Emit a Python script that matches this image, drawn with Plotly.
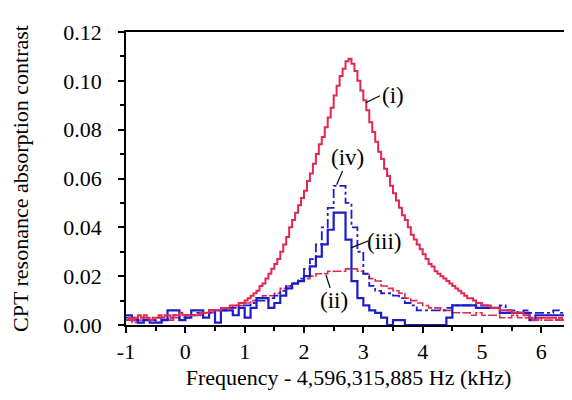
import plotly.graph_objects as go

# frequency grids (kHz) for the stepped traces
freq_fine = [round(-1.0 + 0.05 * i, 2) for i in range(151)]
freq = [round(-1.0 + 0.1 * i, 1) for i in range(76)]

curve_i = [0.002, 0.003, 0.002, 0.003, 0.004, 0.003, 0.004, 0.003, 0.002, 0.003,   # -1.00 .. -0.55
           0.003, 0.004, 0.003, 0.004, 0.004, 0.003, 0.004, 0.004, 0.005, 0.004,   # -0.50 .. -0.05
           0.004, 0.004, 0.004, 0.004, 0.004, 0.005, 0.005, 0.005, 0.006, 0.006,   # 0.00 .. 0.45
           0.006, 0.006, 0.007, 0.007, 0.007, 0.008, 0.008, 0.008, 0.009, 0.009,   # 0.50 .. 0.95
           0.010, 0.011, 0.012, 0.013, 0.014, 0.016, 0.017, 0.019, 0.021, 0.023,   # 1.00 .. 1.45
           0.025, 0.027, 0.030, 0.033, 0.036, 0.040, 0.043, 0.046, 0.049, 0.052,   # 1.50 .. 1.95
           0.055, 0.059, 0.062, 0.066, 0.070, 0.074, 0.077, 0.081, 0.085, 0.089,   # 2.00 .. 2.45
           0.094, 0.098, 0.102, 0.105, 0.108, 0.109, 0.107, 0.104, 0.100, 0.096,   # 2.50 .. 2.95
           0.092, 0.088, 0.083, 0.079, 0.075, 0.071, 0.068, 0.064, 0.061, 0.057,   # 3.00 .. 3.45
           0.054, 0.051, 0.048, 0.045, 0.043, 0.040, 0.037, 0.035, 0.033, 0.031,   # 3.50 .. 3.95
           0.029, 0.027, 0.025, 0.024, 0.022, 0.021, 0.020, 0.019, 0.018, 0.017,   # 4.00 .. 4.45
           0.016, 0.015, 0.014, 0.013, 0.012, 0.011, 0.011, 0.010, 0.009, 0.009,   # 4.50 .. 4.95
           0.008, 0.008, 0.008, 0.007, 0.007, 0.007, 0.006, 0.006, 0.006, 0.006,   # 5.00 .. 5.45
           0.005, 0.005, 0.005, 0.005, 0.004, 0.004, 0.003, 0.002, 0.002, 0.003,   # 5.50 .. 5.95
           0.003, 0.003, 0.003, 0.003, 0.003, 0.002, 0.003, 0.002, 0.002, 0.001,   # 6.00 .. 6.45
           0.001]                                                                  # 6.50

curve_ii = [0.002, 0.001, 0.002, 0.003, 0.002, 0.001, 0.002, 0.002, 0.003, 0.002,
            0.003, 0.004, 0.004, 0.005, 0.005, 0.006, 0.006, 0.007, 0.008, 0.008,
            0.009, 0.010, 0.011, 0.012, 0.012, 0.013, 0.015, 0.016, 0.017, 0.018,
            0.019, 0.020, 0.021, 0.021, 0.022, 0.022, 0.022, 0.023, 0.023, 0.022,
            0.021, 0.019, 0.018, 0.016, 0.015, 0.014, 0.013, 0.011, 0.010, 0.009,
            0.008, 0.007, 0.007, 0.006, 0.006, 0.005, 0.005, 0.005, 0.004, 0.005,
            0.004, 0.004, 0.004, 0.003, 0.003, 0.004, 0.003, 0.003, 0.003, 0.003,
            0.002, 0.002, 0.002, 0.002, 0.001, 0.000]

curve_iii = [0.004, 0.002, 0.001, 0.002, 0.001, 0.001, 0.002, 0.006, 0.006, 0.002,
             0.003, 0.006, 0.006, 0.003, 0.006, 0.001, 0.006, 0.006, 0.004, 0.007,
             0.003, 0.007, 0.011, 0.011, 0.007, 0.009, 0.012, 0.015, 0.017, 0.018,
             0.020, 0.024, 0.028, 0.033, 0.039, 0.046, 0.046, 0.035, 0.018, 0.011,
             0.008, 0.006, 0.005, 0.003, 0.000, 0.002, 0.002, 0.000, 0.000, 0.000,
             0.000, 0.000, 0.000, 0.000, 0.003, 0.008, 0.008, 0.008, 0.008, 0.007,
             0.007, 0.007, 0.007, 0.005, 0.005, 0.005, 0.005, 0.005, 0.002, 0.004,
             0.004, 0.004, 0.004, 0.004, 0.006, 0.006]

curve_iv = [0.003, 0.003, 0.002, 0.002, 0.002, 0.003, 0.002, 0.003, 0.004, 0.003,
            0.004, 0.004, 0.005, 0.005, 0.005, 0.006, 0.006, 0.007, 0.007, 0.008,
            0.008, 0.009, 0.010, 0.010, 0.011, 0.012, 0.014, 0.016, 0.017, 0.019,
            0.023, 0.027, 0.033, 0.040, 0.048, 0.057, 0.057, 0.050, 0.040, 0.030,
            0.021, 0.016, 0.014, 0.013, 0.013, 0.012, 0.011, 0.009, 0.008, 0.006,
            0.006, 0.006, 0.006, 0.006, 0.007, 0.008, 0.008, 0.008, 0.008, 0.008,
            0.008, 0.007, 0.007, 0.008, 0.006, 0.006, 0.005, 0.006, 0.005, 0.005,
            0.005, 0.005, 0.006, 0.005, 0.005, 0.006]

x_ticks = [-1, 0, 1, 2, 3, 4, 5, 6]
y_ticks = [0.00, 0.02, 0.04, 0.06, 0.08, 0.10, 0.12]
labels = ["(i)", "(ii)", "(iii)", "(iv)"]
label_x = [3.5, 2.51, 3.36, 2.74]
label_y = [0.0939, 0.0102, 0.0344, 0.0684]
leader_x0 = [3.04, 2.37, 2.79, 2.65]
leader_y0 = [0.0910, 0.0205, 0.0316, 0.0631]
leader_x1 = [3.28, 2.44, 3.08, 2.55]
leader_y1 = [0.0939, 0.0152, 0.0344, 0.0574]

RED = "#E3284F"
BLUE = "#1C1CC8"
FONT = "Liberation Serif"

fig = go.Figure()
fig.add_trace(go.Scatter(x=freq, y=curve_ii, mode="lines", line_shape="hv",
                         line=dict(color=RED, width=1.6, dash="9px,2px")))
fig.add_trace(go.Scatter(x=freq, y=curve_iv, mode="lines", line_shape="hv",
                         line=dict(color=BLUE, width=1.8, dash="dashdot")))
fig.add_trace(go.Scatter(x=freq, y=curve_iii, mode="lines", line_shape="hv",
                         line=dict(color=BLUE, width=2.2)))
fig.add_trace(go.Scatter(x=freq_fine, y=curve_i, mode="lines", line_shape="hv",
                         line=dict(color=RED, width=2.0)))

for t, lx, ly, x0, y0, x1, y1 in zip(labels, label_x, label_y, leader_x0, leader_y0, leader_x1, leader_y1):
    fig.add_annotation(x=lx, y=ly, text=t, showarrow=False,
                       font=dict(family=FONT, size=23, color="black"))
    fig.add_shape(type="line", x0=x0, y0=y0, x1=x1, y1=y1,
                  line=dict(color="black", width=1.2))

axis_common = dict(showgrid=False, zeroline=False, showline=True, linecolor="black",
                   linewidth=1.5, mirror=True, ticks="outside", ticklen=6,
                   tickwidth=1.5, tickcolor="black", automargin=False,
                   tickfont=dict(family=FONT, size=22, color="black"))

fig.update_xaxes(range=[-1, 6.5], tickvals=x_ticks, ticktext=[str(v) for v in x_ticks],
                 minor=dict(dtick=0.5, tick0=-1, ticks="outside", ticklen=4, tickwidth=1.5, tickcolor="black"),
                 title=dict(text="Frequency - 4,596,315,885 Hz (kHz)",
                            font=dict(family=FONT, size=22, color="black"), standoff=6),
                 ticklabelstandoff=0,
                 **axis_common)
fig.update_yaxes(range=[0, 0.12], tickvals=y_ticks, ticktext=[f"{v:.2f}" for v in y_ticks],
                 minor=dict(dtick=0.01, tick0=0, ticks="outside", ticklen=4, tickwidth=1.5, tickcolor="black"),
                 title=dict(text="CPT resonance absorption contrast",
                            font=dict(family=FONT, size=22, color="black"), standoff=34),
                 ticklabelstandoff=12,
                 **axis_common)

fig.update_layout(width=572, height=400, margin=dict(l=118, r=9, t=24, b=83),
                  plot_bgcolor="white", paper_bgcolor="white", showlegend=False)

fig.write_html("out.html")
